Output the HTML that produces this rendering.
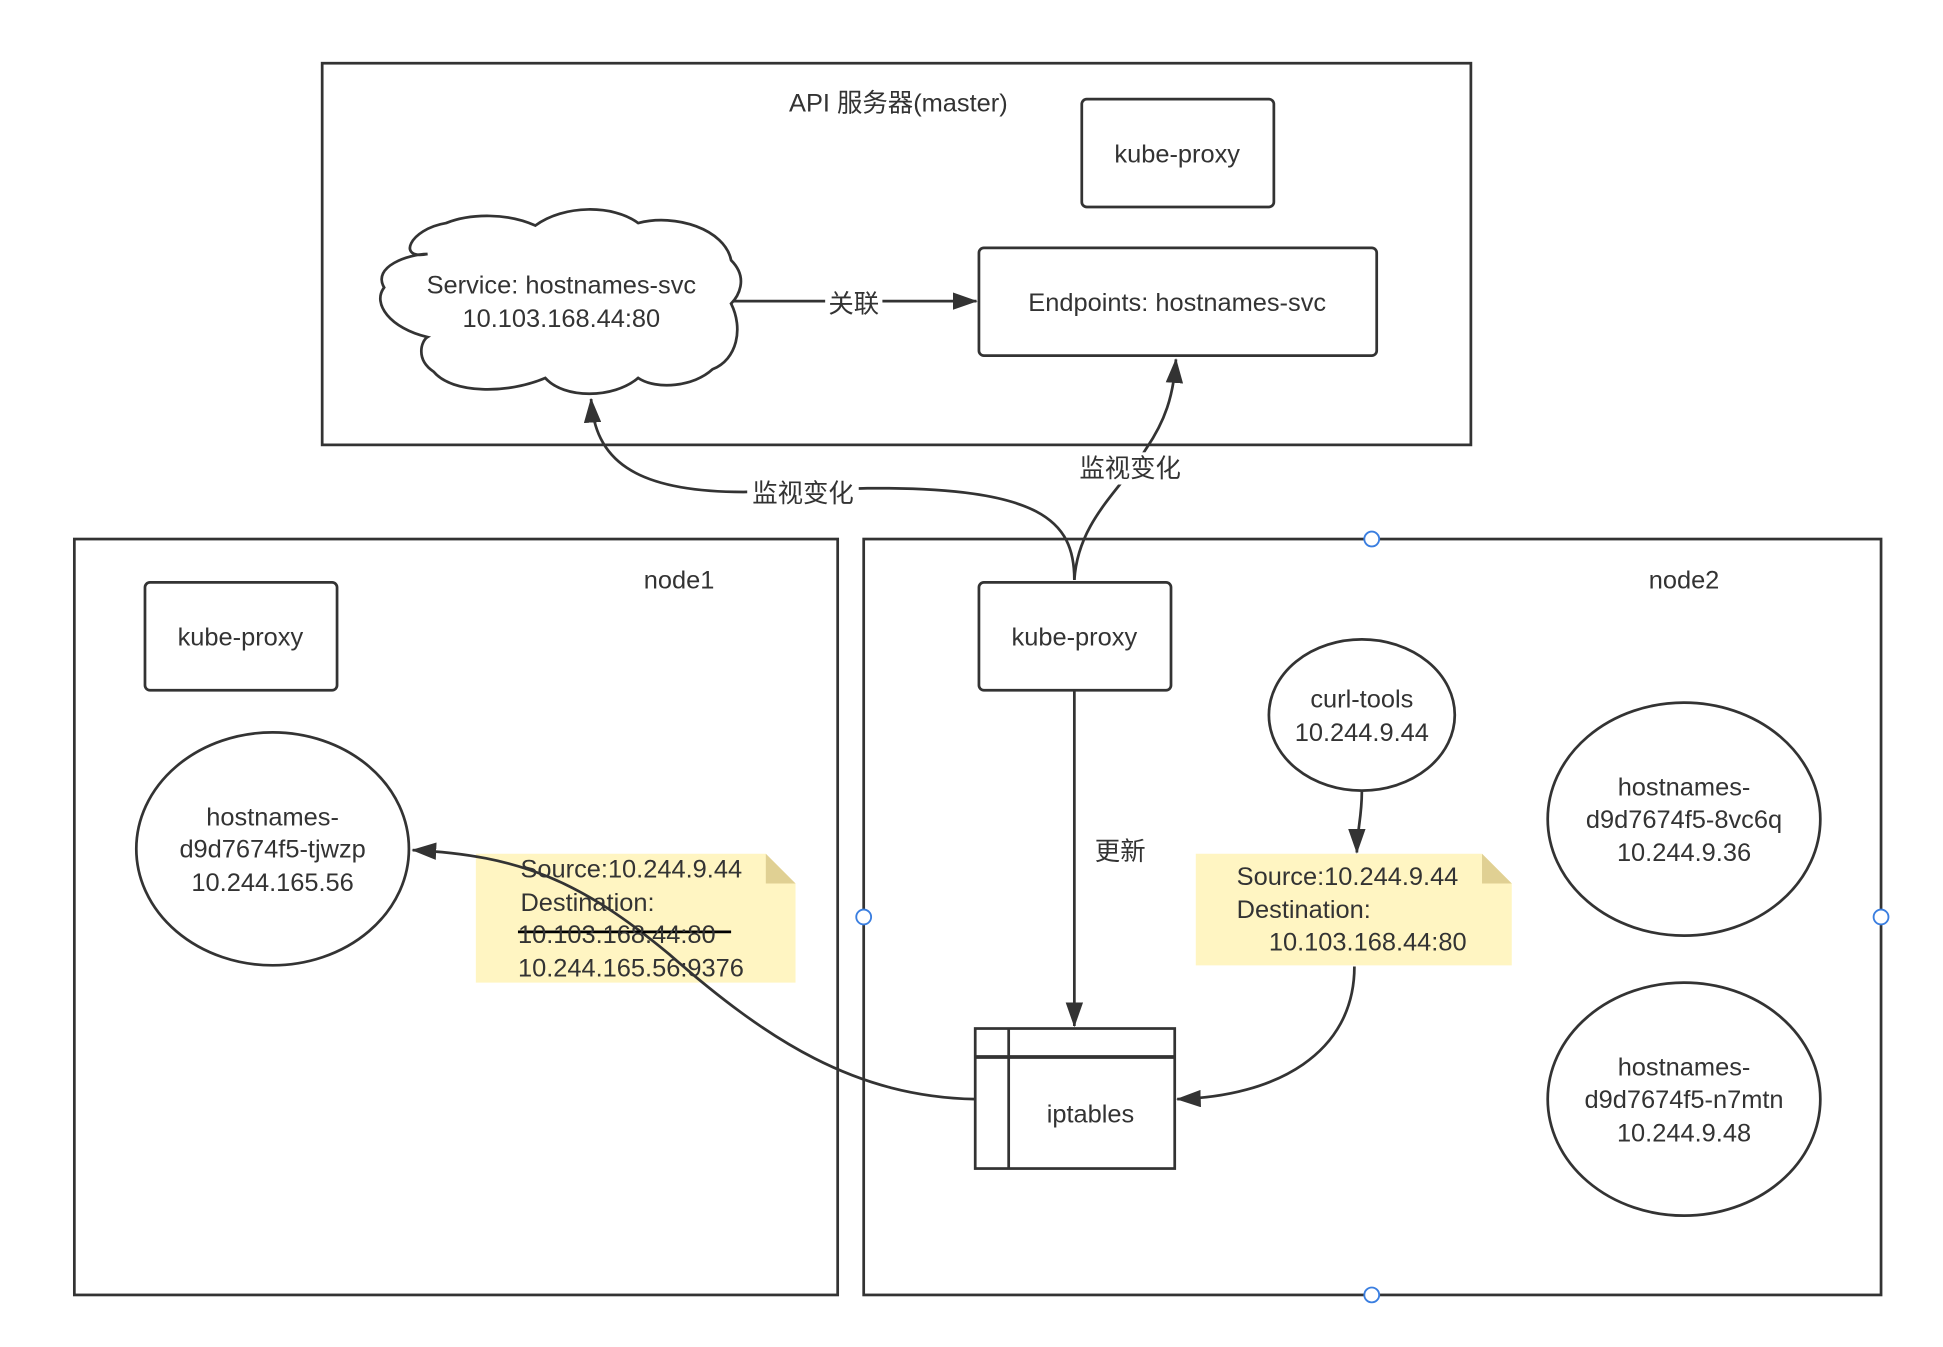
<!DOCTYPE html>
<html><head><meta charset="utf-8"><style>
html,body{margin:0;padding:0;background:#fff;}
svg{display:block;}
text{font-family:"Liberation Sans","Noto Sans CJK SC",sans-serif;font-size:20.5px;fill:#333;}
</style></head><body>
<svg width="1943" height="1347" viewBox="0 0 1568 1087" xmlns="http://www.w3.org/2000/svg">
<defs>
<marker id="ar2" viewBox="0 0 20 14" refX="19" refY="7" markerWidth="20" markerHeight="14" markerUnits="userSpaceOnUse" orient="auto"><path d="M0,0 L20,7 L0,14 z" fill="#333"/></marker>
</defs>
<g fill="none" stroke="#333" stroke-width="2.2">
<rect x="260" y="51" width="927" height="308"/>
<rect x="60" y="435" width="616" height="610"/>
<rect x="697" y="435" width="821" height="610"/>
<rect x="873" y="80" width="155" height="87" rx="4"/>
<rect x="790" y="200" width="321" height="87" rx="4"/>
<rect x="117" y="470" width="155" height="87" rx="4"/>
<rect x="790" y="470" width="155" height="87" rx="4"/>
<path d="M345,205 C320,210 330,185 360,180 C380,172 410,172 432,182 C455,165 495,165 515,180 C545,172 585,185 590,210 C605,225 595,240 590,245 C600,265 595,290 575,298 C560,312 530,315 515,305 C495,322 455,322 440,305 C410,318 365,318 350,300 C335,290 340,275 345,272 C315,265 300,245 310,232 C300,215 330,205 345,205 Z" fill="#fff"/>
<ellipse cx="220" cy="685" rx="110" ry="94"/>
<ellipse cx="1099" cy="577" rx="75" ry="61"/>
<ellipse cx="1359" cy="661" rx="110" ry="94"/>
<ellipse cx="1359" cy="887" rx="110" ry="94"/>
</g>
<path d="M384,689 L618,689 L642,713 L642,793 L384,793 Z" fill="#fff5c2"/>
<path d="M618,689 L642,713 L618,713 Z" fill="#e0d093"/>
<path d="M965,689 L1196,689 L1220,713 L1220,779 L965,779 Z" fill="#fff5c2"/>
<path d="M1196,689 L1220,713 L1196,713 Z" fill="#e0d093"/>
<g fill="#fff" stroke="#333" stroke-width="2.2">
<rect x="787" y="830" width="161" height="113"/>
<line x1="787" y1="853" x2="948" y2="853" stroke-width="3"/>
<line x1="814" y1="830" x2="814" y2="943"/>
</g>
<g fill="none" stroke="#333" stroke-width="2.2">
<path d="M592,243 L666,243 M712,243 L788,243" marker-end="url(#ar2)"/>
<path d="M867,468 C867,420 840,393 700,394 L600,397 C510,397 480,370 477,322" marker-end="url(#ar2)"/>
<path d="M867,468 C870,420 905,395 925,362 C940,340 947,320 949,290" marker-end="url(#ar2)"/>
<path d="M867,558 L867,828" marker-end="url(#ar2)"/>
<path d="M1099,639 C1099,660 1095,670 1095,688" marker-end="url(#ar2)"/>
<path d="M1093,780 C1093,850 1030,885 950,887" marker-end="url(#ar2)"/>
<path d="M787,887 C690,885 620,840 540,770 C470,712 420,690 333,686" marker-end="url(#ar2)"/>
<line x1="418" y1="752" x2="590" y2="752" stroke="#000"/>
</g>
<rect x="666" y="232" width="46" height="24" fill="#fff"/>
<rect x="603" y="385" width="90" height="26" fill="#fff"/>
<rect x="868" y="365" width="90" height="26" fill="#fff"/>
<circle cx="1107" cy="435" r="6" fill="#fff" stroke="#3a7ee0" stroke-width="1.5"/>
<circle cx="697" cy="740" r="6" fill="#fff" stroke="#3a7ee0" stroke-width="1.5"/>
<circle cx="1518" cy="740" r="6" fill="#fff" stroke="#3a7ee0" stroke-width="1.5"/>
<circle cx="1107" cy="1045" r="6" fill="#fff" stroke="#3a7ee0" stroke-width="1.5"/>
<g text-anchor="middle">
<text x="725" y="90">API 服务器(master)</text>
<text x="950" y="131">kube-proxy</text>
<text x="453" y="237">Service: hostnames-svc</text>
<text x="453" y="264">10.103.168.44:80</text>
<text x="950" y="251">Endpoints: hostnames-svc</text>
<text x="689" y="252">关联</text>
<text x="648" y="405">监视变化</text>
<text x="912" y="385">监视变化</text>
<text x="548" y="475">node1</text>
<text x="1359" y="475">node2</text>
<text x="194" y="521">kube-proxy</text>
<text x="867" y="521">kube-proxy</text>
<text x="220" y="666">hostnames-</text>
<text x="220" y="692">d9d7674f5-tjwzp</text>
<text x="220" y="719">10.244.165.56</text>
<text x="1099" y="571">curl-tools</text>
<text x="1099" y="598">10.244.9.44</text>
<text x="1359" y="642">hostnames-</text>
<text x="1359" y="668">d9d7674f5-8vc6q</text>
<text x="1359" y="695">10.244.9.36</text>
<text x="1359" y="868">hostnames-</text>
<text x="1359" y="894">d9d7674f5-n7mtn</text>
<text x="1359" y="921">10.244.9.48</text>
<text x="904" y="694">更新</text>
<text x="880" y="906">iptables</text>
</g>
<g>
<text x="420" y="708">Source:10.244.9.44</text>
<text x="420" y="735">Destination:</text>
<text x="418" y="761">10.103.168.44:80</text>
<text x="418" y="788">10.244.165.56:9376</text>
<text x="998" y="714">Source:10.244.9.44</text>
<text x="998" y="741">Destination:</text>
<text x="1024" y="767">10.103.168.44:80</text>
</g>
</svg>
</body></html>
